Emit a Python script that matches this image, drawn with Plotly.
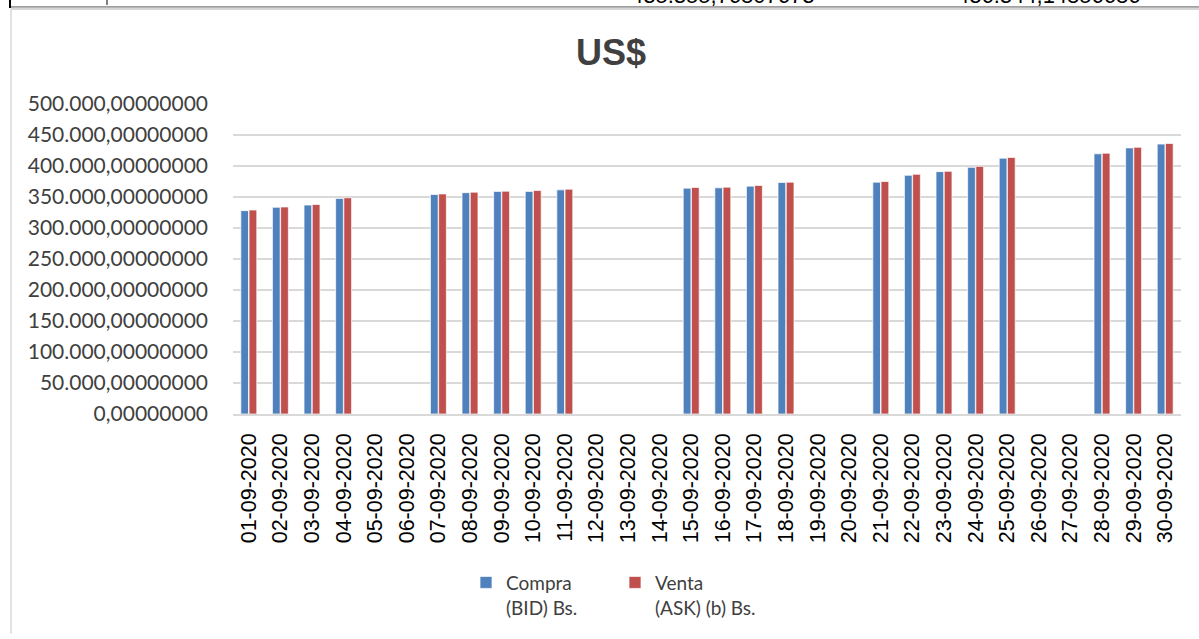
import plotly.graph_objects as go

dates = ["%02d-09-2020" % d for d in range(1, 31)]
compra = [328000, 333400, 337000, 347700, None, None, 354000, 357000, 359000, 359000,
          361500, None, None, None, 364300, 364800, 367500, 373400, None, None,
          373900, 385000, 390900, 397800, 412700, None, None, 419700, 429200, 435355.77]
venta = [329000, 333900, 338000, 348800, None, None, 355000, 357800, 359400, 360500,
         362600, None, None, None, 365400, 365900, 368600, 373900, None, None,
         375000, 386600, 391400, 399400, 413800, None, None, 420600, 430200, 436344.15]
top_texts = ["435.355,76807673", "436.344,14856686"]

W, H = 1199, 639
# plot area in screen pixels
L, R, T, B = 233, 1181, 104, 417


def px(xs):
    return (xs - L) / (R - L)


def py(ys):
    return (B - ys) / (B - T)


fig = go.Figure()
fig.add_bar(x=dates, y=compra, name="Compra<br>(BID) Bs.",
            marker=dict(color="#4F81BD", line=dict(color="rgba(255,255,255,0.7)", width=1)))
fig.add_bar(x=dates, y=venta, name="Venta<br>(ASK) (b) Bs.",
            marker=dict(color="#C0504D", line=dict(color="rgba(255,255,255,0.7)", width=1)))

shapes = [
    dict(type="line", xref="paper", yref="paper", x0=px(11), x1=px(1199), y0=py(8), y1=py(8),
         line=dict(color="#c8c8c8", width=1.5)),
    dict(type="line", xref="paper", yref="paper", x0=px(11), x1=px(11), y0=py(8), y1=py(639),
         line=dict(color="#d9d9d9", width=1.5)),
    dict(type="line", xref="paper", yref="paper", x0=px(10), x1=px(1199), y0=py(6), y1=py(6),
         line=dict(color="#555555", width=1)),
    dict(type="line", xref="paper", yref="paper", x0=px(10), x1=px(10), y0=py(-2), y1=py(7),
         line=dict(color="#000000", width=2)),
    dict(type="line", xref="paper", yref="paper", x0=px(107), x1=px(107), y0=py(-2), y1=py(4),
         line=dict(color="#000000", width=1)),
]

annotations = [
    dict(text=top_texts[0], xref="paper", yref="paper", x=px(723), y=py(9),
         xanchor="center", yanchor="bottom", showarrow=False,
         font=dict(family="Liberation Sans", size=22, color="#000000")),
    dict(text=top_texts[1], xref="paper", yref="paper", x=px(1049), y=py(9),
         xanchor="center", yanchor="bottom", showarrow=False,
         font=dict(family="Liberation Sans", size=22, color="#000000")),
]

fig.update_layout(
    width=W, height=H,
    margin=dict(l=L, r=W - R, t=T, b=H - B, pad=0),
    paper_bgcolor="white", plot_bgcolor="white",
    separators=",.",
    title=dict(text="<b>US$</b>", x=611 / W, xanchor="center",
               y=1 - 52 / H, yanchor="middle",
               font=dict(family="Liberation Sans", size=36, color="#404040")),
    barmode="group", bargap=0.48, bargroupgap=0.06,
    showlegend=True,
    legend=dict(orientation="h", x=px(466), xanchor="left", y=py(568), yanchor="top",
                valign="top", entrywidth=104, entrywidthmode="pixels",
                font=dict(family="Lato", size=19, color="#404040"),
                bgcolor="rgba(0,0,0,0)", traceorder="normal"),
    shapes=shapes,
    annotations=annotations,
)
fig.update_yaxes(range=[0, 500000], dtick=50000, tickformat=",.8f",
                 showgrid=True, gridcolor="#d9d9d9", gridwidth=1.5,
                 zeroline=False, showline=False, ticks="",
                 ticklabelstandoff=24,
                 tickfont=dict(family="Lato", size=21, color="#404040"))
fig.update_xaxes(type="category", tickangle=-90, showgrid=False,
                 showline=True, linecolor="#d9d9d9", linewidth=1.5, ticks="",
                 ticklabelstandoff=9,
                 tickfont=dict(family="Liberation Sans", size=21.5, color="#000000"))

fig.write_html(
    "out.html",
    config={"displayModeBar": False},
    post_script="document.body.style.margin='0';document.body.style.overflow='hidden';",
)
